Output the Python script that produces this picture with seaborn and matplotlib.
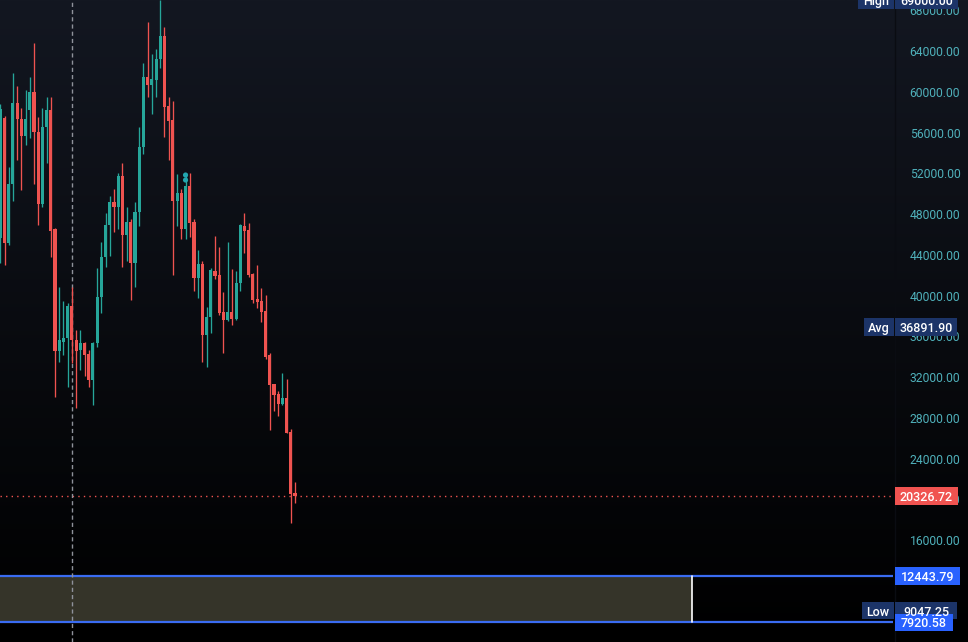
import matplotlib
matplotlib.use("Agg")
import matplotlib.pyplot as plt
import matplotlib.transforms as mtransforms
from matplotlib.patches import Rectangle
from matplotlib.lines import Line2D
import numpy as np
import pandas as pd
import seaborn as sns

# ---------------- data ----------------
opens = [45650, 57430, 45160, 50950, 58900, 57330, 55660, 58210, 59980, 56050,
         48990, 56540, 58210, 46530, 34560, 35440, 35840, 38980, 35640, 34660,
         35350, 34270, 31720, 35350, 39860, 43790, 46930, 49180, 48690, 51730,
         45940, 47220, 43200, 48200, 54580, 61450, 60660, 61160, 63220, 65470,
         58600, 57230, 49280, 50070, 46530, 50750, 47220, 41730, 43100, 36130,
         37900, 42410, 42020, 38390, 37600, 38390, 37700, 41230, 46830, 46440,
         42120, 39660, 39470, 38490, 34170, 31320, 30340, 29360, 29950, 26610,
         20630]
highs = [58800, 57620, 52620, 61840, 60570, 58410, 60170, 61450, 64790, 57520,
         58410, 59490, 59490, 46630, 40840, 39470, 39270, 40840, 36620, 36620,
         35440, 34660, 35440, 42710, 45260, 48100, 49770, 50460, 52030, 53010,
         48690, 47520, 49180, 56540, 62820, 66850, 63710, 64200, 69000, 66360,
         59490, 59090, 51930, 50460, 52030, 52030, 47520, 44470, 43390, 38880,
         42710, 45850, 44770, 40350, 45260, 42610, 42410, 47020, 48100, 47120,
         42220, 43000, 40740, 40060, 34370, 31320, 30640, 32400, 31810, 26910,
         21710]
lows = [43200, 43000, 44960, 49280, 53300, 50360, 54780, 55460, 50950, 46930,
        48690, 53010, 43790, 30050, 33480, 34170, 31030, 33380, 28970, 32700,
        32110, 31030, 29260, 35000, 38290, 42800, 43880, 46240, 46530, 42800,
        43390, 39570, 40840, 46830, 53890, 59490, 57820, 59490, 62330, 55560,
        53300, 42020, 46830, 45550, 45550, 45750, 40450, 39760, 33480, 32990,
        36330, 41630, 38090, 34370, 37510, 37110, 37600, 40450, 44180, 41820,
        39270, 38780, 37410, 33780, 26810, 28670, 28180, 29260, 26500, 17680,
        19650]
closes = [58300, 45160, 50950, 58900, 57330, 55660, 57330, 59980, 56050, 48990,
          56540, 58210, 46340, 34560, 35640, 35840, 38980, 35640, 34560, 35350,
          34170, 31720, 35350, 39860, 43790, 46930, 49180, 48690, 51730, 45940,
          47220, 43200, 48200, 54580, 61450, 60660, 61250, 63220, 65470, 58510,
          57130, 49280, 50070, 46530, 50750, 47120, 41730, 43100, 36130, 37900,
          42510, 41920, 38290, 37600, 38390, 37700, 41230, 46930, 46340, 42020,
          39570, 39370, 38390, 33970, 31230, 30240, 29360, 29950, 26520, 20530,
          20326.72]

event_bar = [44, 44]
event_price = [51830, 51340]

y_ticks = [16000, 20000, 24000, 28000, 32000, 36000, 40000, 44000, 48000,
           52000, 56000, 60000, 64000, 68000]

high_value = 69000.00
avg_value = 36891.90
last_value = 20326.72
zone_top = 12443.79
zone_bottom = 7920.58
low_value = 9047.25
marker_bar = 17

# ---------------- style ----------------
sns.set_style("dark")
plt.rcParams["font.family"] = ["Roboto", "DejaVu Sans"]

W, H = 968, 642
fig = plt.figure(figsize=(W / 100, H / 100), dpi=100)
fig.patch.set_facecolor("black")

# background gradient
bg = fig.add_axes([0, 0, 1, 1], zorder=-5)
top = np.array([19, 23, 33]) / 255.0
bot = np.array([0, 0, 0]) / 255.0
t = np.linspace(0, 1, 256)[:, None]
grad = top[None, :] * (1 - t) + bot[None, :] * t
bg.imshow(grad[:, None, :].repeat(2, axis=1), aspect="auto", extent=[0, 1, 0, 1])
bg.set_axis_off()

PLOT_R = 893
ax = fig.add_axes([0, 0, PLOT_R / W, 1])
ax.set_facecolor("none")
ax.patch.set_alpha(0)

PX_PER_BAR = 4.21
x0 = -0.3 / PX_PER_BAR
ax.set_xlim(x0, x0 + PLOT_R / PX_PER_BAR)
Y_MIN, Y_MAX = 6005, 69005
ax.set_ylim(Y_MIN, Y_MAX)
dpp = (Y_MAX - Y_MIN) / H

df = pd.DataFrame({"open": opens, "high": highs, "low": lows, "close": closes})
df["i"] = np.arange(len(df))
up = df["close"] >= df["open"]
GREEN, RED = "#26a69a", "#ef5350"
colors = np.where(up, GREEN, RED)

# zone + lines
ax.axhspan(zone_bottom, zone_top, xmin=0, xmax=692 / PLOT_R, color="#353429", lw=0, zorder=1)
ax.axhline(zone_top, color="#3a6cf2", lw=1.6, zorder=2)
ax.axhline(zone_bottom, color="#3a6cf2", lw=1.6, zorder=2)
blend_ax = mtransforms.blended_transform_factory(ax.transAxes, ax.transData)
ax.plot([692 / PLOT_R] * 2, [zone_bottom, zone_top], transform=blend_ax, color="white", lw=1.2, zorder=2)

ax.axhline(last_value, color=RED, lw=1, ls=(0, (1, 3)), zorder=2)
ax.axvline(marker_bar, color="#8f929b", lw=1, ls=(0, (3, 2.2)), zorder=3)

# candles
ax.vlines(df["i"], df["low"], df["high"], colors=colors, lw=0.95, zorder=4)
body_lo = np.minimum(df["open"], df["close"])
body_h = np.maximum(np.abs(df["close"] - df["open"]), 120)
ax.bar(df["i"], body_h, bottom=body_lo, width=0.74, color=colors, lw=0, zorder=5)

sns.scatterplot(x=event_bar, y=event_price, ax=ax, color="#22a7b0", s=14,
                edgecolor="none", zorder=6, legend=False)

# axes styling
for s in ax.spines.values():
    s.set_visible(False)
ax.set_xticks([])
ax.yaxis.tick_right()
ax.set_yticks(y_ticks)
ax.set_yticklabels([f"{v:.2f}" for v in y_ticks])
ax.tick_params(axis="y", length=0, pad=12, labelcolor="#4fb0ba", labelsize=8.7)
ax.grid(False)
ax.set_xlabel("")
ax.set_ylabel("")

# separator
fig.add_artist(Line2D([894.5 / W] * 2, [0, 1], transform=fig.transFigure, color="#0a0c12", lw=1, zorder=3))

blend_fig = mtransforms.blended_transform_factory(fig.transFigure, ax.transData)


def box(price, text, color, x_left, x_right, hpx=18):
    h = hpx * dpp
    r = Rectangle((x_left / W, price - h / 2), (x_right - x_left) / W, h,
                  transform=blend_fig, facecolor=color, edgecolor="none", zorder=20)
    fig.add_artist(r)
    fig.text((x_left + x_right) / 2 / W, price, text, transform=blend_fig,
             ha="center", va="center_baseline", color="white", fontsize=9,
             fontweight="medium", zorder=21)


NAVY = "#1c3468"
BLUE = "#2962ff"
box(high_value, "High", NAVY, 858, 894)
box(high_value, f"{high_value:.2f}", NAVY, 895, 958)
box(avg_value, "Avg", NAVY, 864, 894)
box(avg_value, f"{avg_value:.2f}", NAVY, 895, 957)
box(last_value, f"{last_value:.2f}", "#f05350", 895, 958)
box(zone_top, f"{zone_top:.2f}", BLUE, 895, 960)
box(low_value, "Low", NAVY, 862, 894, hpx=17)
box(low_value, f"{low_value:.2f}", NAVY, 895, 957, hpx=17)
box(zone_bottom, f"{zone_bottom:.2f}", BLUE, 895, 953, hpx=17)

fig.savefig("out.png", dpi=100, facecolor=fig.get_facecolor())
